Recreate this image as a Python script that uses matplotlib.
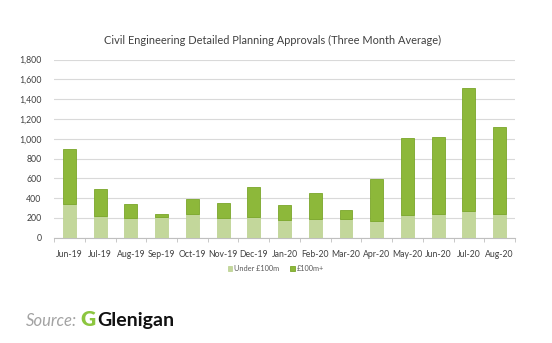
import matplotlib.pyplot as plt
import numpy as np

months = ['Jun-19', 'Jul-19', 'Aug-19', 'Sep-19', 'Oct-19', 'Nov-19', 'Dec-19',
          'Jan-20', 'Feb-20', 'Mar-20', 'Apr-20', 'May-20', 'Jun-20', 'Jul-20', 'Aug-20']
total = [900, 490, 338, 237, 390, 348, 515, 335, 450, 280, 590, 1012, 1014, 1515, 1122]
under_100m = [338, 220, 203, 205, 241, 200, 205, 180, 193, 187, 170, 227, 235, 265, 241]
over_100m = [t - u for t, u in zip(total, under_100m)]

plt.rcParams['font.family'] = ['Lato', 'DejaVu Sans']

fig = plt.figure(figsize=(5.52, 3.43), dpi=100)
ax = fig.add_axes([0.098, 0.307, 0.835, 0.5195])

x = np.arange(len(months))
ax.bar(x, under_100m, width=0.42, color='#c3d79b', edgecolor='#b8d08a', linewidth=0.5,
       label='Under £100m', zorder=3)
ax.bar(x, over_100m, width=0.42, bottom=under_100m, color='#8db83a', edgecolor='#7aa62a',
       linewidth=0.6, label='£100m+', zorder=3)

ax.set_xlim(-0.5, len(months) - 0.5)
ax.set_ylim(0, 1800)
ax.set_yticks(range(0, 1801, 200))
ax.set_yticklabels([f'{v:,}' for v in range(0, 1801, 200)], fontsize=6.3, color='#404040')
ax.set_xticks(x)
ax.set_xticklabels(months, fontsize=6.2, color='#404040')
ax.set_xticks(np.arange(-0.5, len(months), 1), minor=True)
ax.tick_params(axis='x', which='major', length=0, pad=9)
ax.tick_params(axis='x', which='minor', length=3, color='#bfbfbf', width=0.6)
ax.tick_params(axis='y', length=0, pad=9)

ax.grid(axis='y', color='#d9d9d9', linewidth=0.8, zorder=0)
for s in ['top', 'right', 'left']:
    ax.spines[s].set_visible(False)
ax.spines['bottom'].set_color('#bfbfbf')
ax.spines['bottom'].set_linewidth(0.8)

ax.set_title('Civil Engineering Detailed Planning Approvals (Three Month Average)',
             fontsize=7.9, color='#404040', pad=11, x=0.474)

fig.legend(loc='center', bbox_to_anchor=(0.5, 0.216), ncol=2, frameon=False,
           fontsize=5.3, handlelength=0.6, handleheight=0.6, handletextpad=0.3,
           columnspacing=1.5, labelcolor='#595959')

fig.text(0.047, 0.05, 'Source:', fontsize=12, style='italic', color='#a3a3a3',
         fontweight='normal', va='baseline')
fig.text(0.146, 0.05, 'G', fontsize=15, color='#8cc63f', fontweight='heavy', va='baseline')
fig.text(0.177, 0.05, 'Glenigan', fontsize=14, color='#111111', fontweight='bold', va='baseline')

fig.savefig('out.png', dpi=100)
